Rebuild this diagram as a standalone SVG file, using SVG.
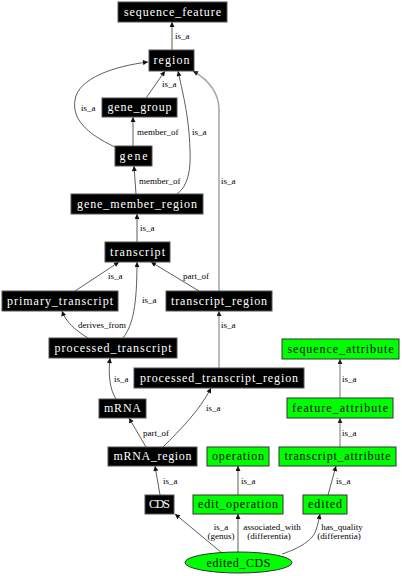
<svg xmlns="http://www.w3.org/2000/svg" width="402" height="576" viewBox="0 0 402 576">
<defs>
<style>
.bk rect{fill:#000;stroke:#555;stroke-width:1}
.gn rect,.gn ellipse{fill:#00ff00;stroke:#333;stroke-width:1}
.bk text{fill:#fff;font-family:"Liberation Serif",serif;font-size:12px;text-anchor:middle}
.gn text{fill:#000;font-family:"Liberation Serif",serif;font-size:12px;text-anchor:middle}
.e path{fill:none;stroke:#333;stroke-width:0.8;marker-end:url(#ah)}
.e path.g{stroke:#aaa;stroke-width:1.6;marker-end:url(#ahg)}
.lb text{font-family:"Liberation Serif",serif;font-size:9px;fill:#000}
.lb text.c{text-anchor:middle}
</style>
<marker id="ah" viewBox="0 0 10 10" refX="10" refY="5" markerUnits="userSpaceOnUse" markerWidth="6" markerHeight="5" orient="auto"><path d="M0,0 L10,5 L0,10 z" fill="#111"/></marker>
<marker id="ahg" viewBox="0 0 10 10" refX="10" refY="5" markerUnits="userSpaceOnUse" markerWidth="6" markerHeight="5" orient="auto"><path d="M0,0 L10,5 L0,10 z" fill="#222"/></marker>
</defs>
<rect width="402" height="576" fill="#fff"/>
<g id="connectors" class="e">
<path d="M172,50 L172,22"/>
<path d="M146,98 L165,71"/>
<path d="M115,147 C85,133 72,118 75,100 C78,78 115,66 148,62"/>
<path d="M133,146 L133,117"/>
<path d="M136,194 L134,166"/>
<path d="M177,194 C188,186 191,170 190,150 C189,115 182,90 178,71"/>
<path class="g" d="M219,291 L219,110 C219,90 205,78 193,71"/>
<path d="M137,242 L137,214"/>
<path d="M75,291 L119,262"/>
<path d="M123,338 C133,325 137,305 137,262"/>
<path d="M199,291 L151,262"/>
<path d="M88,338 C75,330 66,322 62,311"/>
<path class="g" d="M219,368 L219,311"/>
<path d="M116,399 C110,390 108,375 110,358"/>
<path d="M146,447 L129,418"/>
<path d="M163,447 C180,430 200,410 211,388"/>
<path class="g" d="M340,398 L340,359"/>
<path class="g" d="M340,447 L340,418"/>
<path d="M160,495 L155,466"/>
<path d="M238,495 L238,466"/>
<path d="M328,495 L336,466"/>
<path d="M222,553 L175,514"/>
<path d="M238,552 L238,514"/>
<path d="M282,554 C300,548 313,540 316,530 C318,524 319,519 320,514"/>
</g>
<g id="edge-labels" class="lb">
<text x="175" y="39">is_a</text>
<text x="162" y="87">is_a</text>
<text x="81" y="111">is_a</text>
<text x="137" y="135">member_of</text>
<text x="139" y="184">member_of</text>
<text x="192" y="135">is_a</text>
<text x="221" y="184">is_a</text>
<text x="140" y="231">is_a</text>
<text x="108" y="279">is_a</text>
<text x="142" y="303">is_a</text>
<text x="183" y="279">part_of</text>
<text x="78" y="328">derives_from</text>
<text x="221" y="328">is_a</text>
<text x="114" y="382">is_a</text>
<text x="143" y="436">part_of</text>
<text x="206" y="411">is_a</text>
<text x="342" y="382">is_a</text>
<text x="342" y="436">is_a</text>
<text x="163" y="484">is_a</text>
<text x="241" y="484">is_a</text>
<text x="336" y="484">is_a</text>
<text class="c" x="221" y="530">is_a</text>
<text class="c" x="221" y="539">(genus)</text>
<text class="c" x="272" y="530">associated_with</text>
<text class="c" x="269" y="539">(differentia)</text>
<text class="c" x="342" y="530">has_quality</text>
<text class="c" x="339" y="539">(differentia)</text>
</g>
<g id="sequence_feature" class="bk"><rect x="118" y="2" width="109" height="20"/><text x="172.5" y="16" textLength="97">sequence_feature</text></g>
<g id="region" class="bk"><rect x="149" y="50" width="45" height="21"/><text x="171.5" y="64" textLength="36">region</text></g>
<g id="gene_group" class="bk"><rect x="102" y="98" width="75" height="19"/><text x="139.5" y="111" textLength="64">gene_group</text></g>
<g id="gene" class="bk"><rect x="115" y="146" width="37" height="20"/><text x="133.5" y="160" textLength="28">gene</text></g>
<g id="gene_member_region" class="bk"><rect x="71" y="194" width="132" height="20"/><text x="137" y="208" textLength="120">gene_member_region</text></g>
<g id="transcript" class="bk"><rect x="105" y="242" width="65" height="20"/><text x="137.5" y="256" textLength="55">transcript</text></g>
<g id="primary_transcript" class="bk"><rect x="2" y="291" width="116" height="20"/><text x="60" y="305" textLength="106">primary_transcript</text></g>
<g id="transcript_region" class="bk"><rect x="166" y="291" width="106" height="20"/><text x="219" y="305" textLength="96">transcript_region</text></g>
<g id="processed_transcript" class="bk"><rect x="49" y="338" width="128" height="20"/><text x="113" y="352" textLength="117">processed_transcript</text></g>
<g id="processed_transcript_region" class="bk"><rect x="134" y="368" width="170" height="20"/><text x="219" y="382" textLength="158">processed_transcript_region</text></g>
<g id="mRNA" class="bk"><rect x="99" y="399" width="47" height="19"/><text x="122.5" y="412" textLength="37">mRNA</text></g>
<g id="mRNA_region" class="bk"><rect x="108" y="447" width="89" height="19"/><text x="152.5" y="460" textLength="78">mRNA_region</text></g>
<g id="CDS" class="bk"><rect x="145" y="495" width="29" height="19"/><text x="159.5" y="508" textLength="21">CDS</text></g>
<g id="sequence_attribute" class="gn"><rect x="282" y="339" width="117" height="20"/><text x="340.5" y="353" textLength="106">sequence_attribute</text></g>
<g id="feature_attribute" class="gn"><rect x="287" y="398" width="106" height="20"/><text x="340" y="412" textLength="96">feature_attribute</text></g>
<g id="operation" class="gn"><rect x="207" y="447" width="62" height="19"/><text x="238" y="460" textLength="52">operation</text></g>
<g id="transcript_attribute" class="gn"><rect x="279" y="447" width="117" height="19"/><text x="337.5" y="460" textLength="106">transcript_attribute</text></g>
<g id="edit_operation" class="gn"><rect x="193" y="495" width="90" height="19"/><text x="238" y="508" textLength="80">edit_operation</text></g>
<g id="edited" class="gn"><rect x="303" y="495" width="44" height="19"/><text x="325" y="508" textLength="34">edited</text></g>
<g id="edited_CDS" class="gn"><ellipse cx="238.5" cy="562.5" rx="53.5" ry="10.5"/><text x="238.5" y="566.5" textLength="64">edited_CDS</text></g>
</svg>
